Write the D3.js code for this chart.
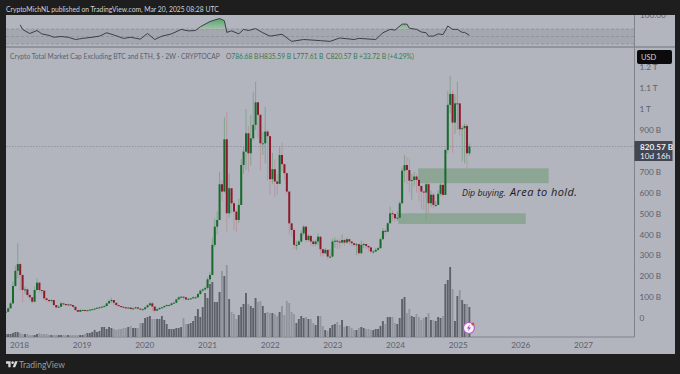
<!DOCTYPE html>
<html>
<head>
<meta charset="utf-8">
<script src="https://d3js.org/d3.v7.min.js"></script>
<style>
  html, body { margin: 0; padding: 0; background: #1e1e1e; }
  svg { display: block; font-family: Lato, sans-serif; }
</style>
</head>
<body>
<svg id="chart" width="680" height="374"></svg>
<script>
// two-week candles, values in billions of USD, last bar is 2025-03-10
const closes = [30,46,70,153,226,258,206,134,137,110,99,78,134,169,134,131,94,86,81,86,62,51,54,70,67,62,65,62,54,38,30,38,38,35,37,40,42,45,49,51,54,57,70,81,86,73,62,57,54,51,48,50,43,46,51,45,42,42,51,61,70,55,35,42,48,51,57,62,62,70,73,89,99,102,99,89,92,94,99,99,115,131,137,144,185,206,
  350,437,469,640,605,855,501,621,549,509,469,541,732,796,884,788,860,924,1032,972,836,836,892,870,664,712,653,642,780,736,693,605,453,421,350,350,366,405,437,373,393,366,354,366,389,329,310,326,294,294,366,370,366,361,373,361,377,366,358,350,353,310,350,354,345,338,318,318,326,334,377,417,413,453,
  501,498,477,480,549,705,732,708,657,660,677,661,632,605,600,640,549,590,541,541,594,637,589,804,1020,1072,935,1027,1027,903,908,919,788,820.57];
const highs = [35,50,78,175,250,358,265,200,150,145,118,100,150,190,175,135,105,98,90,90,70,58,62,78,72,68,68,65,58,45,38,42,42,40,40,42,45,48,52,55,58,62,75,90,98,82,68,60,56,53,52,52,50,50,54,50,46,46,54,65,78,80,48,46,52,55,60,66,66,74,78,92,104,106,102,95,95,97,104,104,120,136,142,150,195,220,
  385,475,510,700,660,960,985,690,600,560,520,570,760,820,1000,920,970,1080,1130,1030,980,890,1010,900,740,790,760,690,820,840,740,690,470,440,430,370,375,420,445,440,400,380,375,376,405,390,330,335,300,330,380,385,380,380,400,380,385,375,365,355,360,355,370,360,352,345,330,325,335,340,385,430,425,460,
  533,515,500,510,560,720,780,770,764,690,700,690,640,615,610,650,650,610,600,560,610,645,640,810,1085,1158,1090,1070,1130,1020,920,930,928,835.59];
const lows = [28,30,46,68,150,190,130,75,115,100,85,70,75,130,120,115,85,78,72,78,55,45,48,52,60,58,60,58,48,34,26,28,34,33,34,37,40,42,46,48,50,54,56,68,72,60,54,52,50,47,46,46,40,42,44,42,38,38,40,48,58,32,25,33,40,46,50,56,58,60,68,70,85,92,85,85,85,90,92,92,95,110,125,130,135,170,
  205,340,400,470,560,600,415,480,500,420,410,455,540,690,710,700,730,850,900,860,705,780,740,660,590,640,580,590,640,700,660,590,400,390,330,325,350,360,395,360,365,345,340,345,350,295,295,305,280,285,290,335,330,330,355,345,355,352,345,340,300,300,305,335,330,318,310,308,315,322,332,375,395,410,
  455,465,460,465,470,545,650,640,600,565,630,600,560,520,517,469,500,530,525,530,540,585,580,590,790,980,790,880,900,870,750,740,712,777.61];
const volumes = [3,3,3,4,5,5,4,3,3,3,2,2,2,3,4,3,3,3,2,2,2,2,2,2,2,2,2,2,2,2,2,2,2,
  3,4,4,5,7,5,6,10,10,8,10,9,8,7,8,8,9,9,10,11,9,9,9,14,14,19,20,21,18,18,18,18,21,17,13,8,8,8,9,9,10,19,13,13,
  14,16,21,28,20,30,44,39,53,55,35,35,45,66,61,72,38,25,23,18,22,30,33,44,33,31,29,39,35,36,31,24,25,24,24,23,21,25,31,22,36,34,25,23,14,18,21,19,20,18,18,14,12,21,21,11,7,6,9,12,13,15,12,17,10,11,11,9,7,7,9,10,9,8,8,7,7,8,8,11,16,13,20,20,20,14,13,19,38,40,24,28,21,20,23,20,17,19,20,24,17,17,16,20,19,21,53,57,70,48,16,41,47,37,33,33,30];

// oscillator pane, sampled at these bars
const rsiBars = [6,7,8,10,13,15,18,20,23,26,29,32,36,39,42,45,49,52,56,59,62,65,69,73,76,79,81,85,89,91,92,94,97,99,101,104,107,110,115,119,124,131,135,139,145,147,154,157,160,162,165,167,168,171,173,175,176,178,180,182,184,186,188,190,191,193];
const rsiValues = [81,69,65,58,66,57,53,48,50,48,42,45,48,51,60,54,45,48,43,58,42,51,57,69,65,66,76,90,98,92,61,65,57,69,66,71,60,51,56,37,42,39,37,46,42,45,42,60,69,67,83,83,72,69,62,60,51,51,57,55,78,69,69,61,61,53];
const rsiLevels = [70,50,30];

const priceTicks = [0,100,200,300,400,500,600,700,900,1000,1100,1200];
const yearTicks = [2018,2019,2020,2021,2022,2023,2024,2025,2026,2027];
const zones = [
  {from: "2024-05-15", to: "2026-06-15", high: 716, low: 645},
  {from: "2024-01-20", to: "2026-02-01", high: 501, low: 450}
];

const lastBar = new Date(2025, 2, 10);
const dates = closes.map((c, i) => d3.timeDay.offset(lastBar, -14 * (closes.length - 1 - i)));
const opens = closes.map((c, i) => i ? closes[i - 1] : 28);

const panelLeft = 6, panelRight = 675, axisX = 634.5, panelTop = 15, rsiBottom = 47, plotBottom = 337, panelBottom = 354;
const bg = "#b2b5be", grey = "#5d606b", green = "#367a4e";
const upBody = "#17692c", downBody = "#8b1a2c", upWick = "#7ba188", downWick = "#b8939c";

const svg = d3.select("#chart");
const x = d3.scaleTime().domain([new Date(2018, 0, 1), new Date(2027, 0, 1)]).range([19, 583]);
const y = d3.scaleLinear().domain([0, 1200]).range([318, 67.2]);
const yVol = d3.scaleLinear().domain([0, 80]).range([plotBottom, plotBottom - 80]);
const yRsi = d3.scaleLinear().domain([30, 70]).range([44, 29]);

svg.append("rect").attr("x", panelLeft).attr("y", panelTop).attr("width", panelRight - panelLeft).attr("height", panelBottom - panelTop).attr("fill", bg);

const defs = svg.append("defs");
defs.append("clipPath").attr("id", "plot").append("rect").attr("x", panelLeft).attr("y", rsiBottom).attr("width", axisX - panelLeft).attr("height", plotBottom - rsiBottom);
defs.append("clipPath").attr("id", "rsiTop").append("rect").attr("x", panelLeft).attr("y", panelTop).attr("width", axisX - panelLeft).attr("height", yRsi(70) - panelTop);
defs.append("clipPath").attr("id", "axisTop").append("rect").attr("x", axisX).attr("y", panelTop).attr("width", panelRight - axisX).attr("height", rsiBottom - panelTop);
const rsiFade = defs.append("linearGradient").attr("id", "rsiFade")
  .attr("gradientUnits", "userSpaceOnUse").attr("x1", 0).attr("x2", 0).attr("y1", yRsi(100)).attr("y2", yRsi(70));
rsiFade.append("stop").attr("offset", 0).attr("stop-color", "#45ab60");
rsiFade.append("stop").attr("offset", 1).attr("stop-color", "#a9bcae");

// oscillator pane
svg.append("rect").attr("x", panelLeft).attr("y", yRsi(70)).attr("width", axisX - panelLeft).attr("height", yRsi(30) - yRsi(70)).attr("fill", "#a4a7b0");
svg.append("g").selectAll("line").data(rsiLevels).join("line")
  .attr("x1", panelLeft).attr("x2", axisX)
  .attr("y1", d => yRsi(d)).attr("y2", d => yRsi(d))
  .attr("stroke", "#84878f").attr("stroke-width", 0.6).attr("stroke-dasharray", "3 2");

const rsiArea = d3.area()
  .x((d, i) => x(dates[rsiBars[i]]))
  .y0(yRsi(70))
  .y1(d => yRsi(d));
svg.append("path").datum(rsiValues).attr("d", rsiArea).attr("fill", "url(#rsiFade)").attr("clip-path", "url(#rsiTop)");

const rsiLine = d3.line()
  .x((d, i) => x(dates[rsiBars[i]]))
  .y(d => yRsi(d));
svg.append("path").datum(rsiValues).attr("d", rsiLine).attr("fill", "none").attr("stroke", "#3c3f47").attr("stroke-width", 1);

svg.append("text").attr("x", 640).attr("y", 18).attr("font-size", 8.2).attr("fill", grey).attr("clip-path", "url(#axisTop)").text("100.00");

// dividers
svg.append("line").attr("x1", panelLeft).attr("x2", panelRight).attr("y1", rsiBottom).attr("y2", rsiBottom).attr("stroke", "#6f727a");
svg.append("line").attr("x1", axisX).attr("x2", axisX).attr("y1", panelTop).attr("y2", plotBottom).attr("stroke", "#80838b");
svg.append("line").attr("x1", panelLeft).attr("x2", axisX).attr("y1", plotBottom).attr("y2", plotBottom).attr("stroke", "#80838b");

const plot = svg.append("g").attr("clip-path", "url(#plot)");

// last price line
plot.append("line").attr("x1", panelLeft).attr("x2", axisX)
  .attr("y1", y(820.57)).attr("y2", y(820.57))
  .attr("stroke", "#84878f").attr("stroke-width", 0.7).attr("stroke-dasharray", "1.5 1.5");

// volume
plot.append("g").selectAll("rect").data(volumes).join("rect")
  .attr("x", (d, i) => x(dates[i]) - 1)
  .attr("width", 1.9)
  .attr("y", d => yVol(d))
  .attr("height", d => plotBottom - yVol(d))
  .attr("fill", (d, i) => closes[i] >= opens[i] ? "#5f6168" : "#93959d");

// zones sit behind the candles
plot.append("g").selectAll("rect").data(zones).join("rect")
  .attr("x", d => x(new Date(d.from)))
  .attr("width", d => x(new Date(d.to)) - x(new Date(d.from)))
  .attr("y", d => y(d.high))
  .attr("height", d => y(d.low) - y(d.high))
  .attr("fill", "#8da595");

// candles
const candles = plot.append("g").selectAll("g").data(closes).join("g");
candles.append("line")
  .attr("x1", (d, i) => x(dates[i])).attr("x2", (d, i) => x(dates[i]))
  .attr("y1", (d, i) => y(highs[i])).attr("y2", (d, i) => y(lows[i]))
  .attr("stroke", (d, i) => d >= opens[i] ? upWick : downWick)
  .attr("stroke-width", 0.9);
candles.append("rect")
  .attr("x", (d, i) => x(dates[i]) - 1)
  .attr("width", 2)
  .attr("y", (d, i) => y(Math.max(d, opens[i])))
  .attr("height", (d, i) => Math.max(1, Math.abs(y(d) - y(opens[i]))))
  .attr("fill", (d, i) => d >= opens[i] ? upBody : downBody);

// axes
const xAxis = d3.axisBottom(x)
  .tickValues(yearTicks.map(d => new Date(d, 0, 1)))
  .tickFormat(d3.timeFormat("%Y"))
  .tickSize(0).tickPadding(5);
const gx = svg.append("g").attr("transform", `translate(0,${plotBottom})`).call(xAxis);
gx.select(".domain").remove();
gx.selectAll("text").attr("font-size", 8.2).attr("fill", grey).attr("font-family", "Lato");

const yAxis = d3.axisRight(y)
  .tickValues(priceTicks)
  .tickFormat(d => d >= 1000 ? (d / 1000) + " T" : d === 0 ? "0" : d + " B")
  .tickSize(0).tickPadding(5);
const gy = svg.append("g").attr("transform", `translate(${axisX},0)`).call(yAxis);
gy.select(".domain").remove();
gy.selectAll("text").attr("font-size", 8.2).attr("fill", grey).attr("font-family", "Lato");

// currency button
svg.append("rect").attr("x", 637).attr("y", 50).attr("width", 35).attr("height", 14).attr("rx", 2).attr("fill", "#0b0b0d");
svg.append("text").attr("x", 641).attr("y", 60).attr("font-size", 7.5).attr("fill", "#d1d4dc").text("USD");

// last price tag
svg.append("rect").attr("x", axisX).attr("y", 141).attr("width", 38).attr("height", 20).attr("fill", "#434651");
svg.append("text").attr("x", 640).attr("y", 149.5).attr("font-size", 8.2).attr("font-weight", 700).attr("fill", "#eceef2").text("820.57 B");
svg.append("text").attr("x", 640).attr("y", 159).attr("font-size", 8.2).attr("fill", "#eceef2").text("10d 16h");

// legend line
svg.append("text").attr("x", 10).attr("y", 58.5).attr("font-size", 6.7).attr("fill", grey)
  .text("Crypto Total Market Cap Excluding BTC and ETH, $ · 2W · CRYPTOCAP");
const ohlc = [["O", "786.68 B", 226], ["H", "835.59 B", 259], ["L", "777.61 B", 293], ["C", "820.57 B", 326]];
ohlc.forEach(d => {
  const t = svg.append("text").attr("x", d[2]).attr("y", 58.5).attr("font-size", 6.7);
  t.append("tspan").attr("fill", grey).text(d[0]);
  t.append("tspan").attr("fill", green).text(d[1]);
});
svg.append("text").attr("x", 359).attr("y", 58.5).attr("font-size", 6.7).attr("fill", green).text("+33.72 B (+4.29%)");

// annotation
const note = svg.append("text").attr("y", 195.5).attr("fill", "#1c1c22").attr("font-style", "italic").attr("font-family", "Open Sans");
note.append("tspan").attr("x", 462).attr("font-size", 8.8).text("Dip buying.");
note.append("tspan").attr("x", 510).attr("font-size", 11).attr("letter-spacing", 0.4).text("Area to hold.");

// snapshot header and footer
svg.append("text").attr("x", 6).attr("y", 11.5).attr("font-size", 6.75).attr("fill", "#d1d4dc")
  .text("CryptoMichNL published on TradingView.com, Mar 20, 2025 08:28 UTC");
const logo = svg.append("g").attr("transform", "translate(6,360) scale(0.33)").attr("fill", "#d8d8d8");
logo.append("path").attr("d", "M14 22H7V11H0V4h14v18zM28 22h-8l7.5-18h8L28 22z");
logo.append("circle").attr("cx", 20).attr("cy", 8).attr("r", 4);
svg.append("text").attr("x", 19).attr("y", 368).attr("font-size", 8.5).attr("fill", "#9c9c9c").text("TradingView");

// replay badge on the volume pane
const badgeX = x(lastBar) - 0.5;
const badge = svg.append("g").attr("transform", `translate(${badgeX},328)`);
badge.append("circle").attr("r", 5.5).attr("fill", "#f4f1f7").attr("stroke", "#b05cc8").attr("stroke-width", 1.2);
badge.append("path").attr("d", "M1 -3.5L-2 0.5H0L-1 3.5L2 -0.5H0Z").attr("fill", "#9c3fbc");
badge.append("circle").attr("cx", 4).attr("cy", -4).attr("r", 1.5).attr("fill", "#e84545");
</script>
</body>
</html>
